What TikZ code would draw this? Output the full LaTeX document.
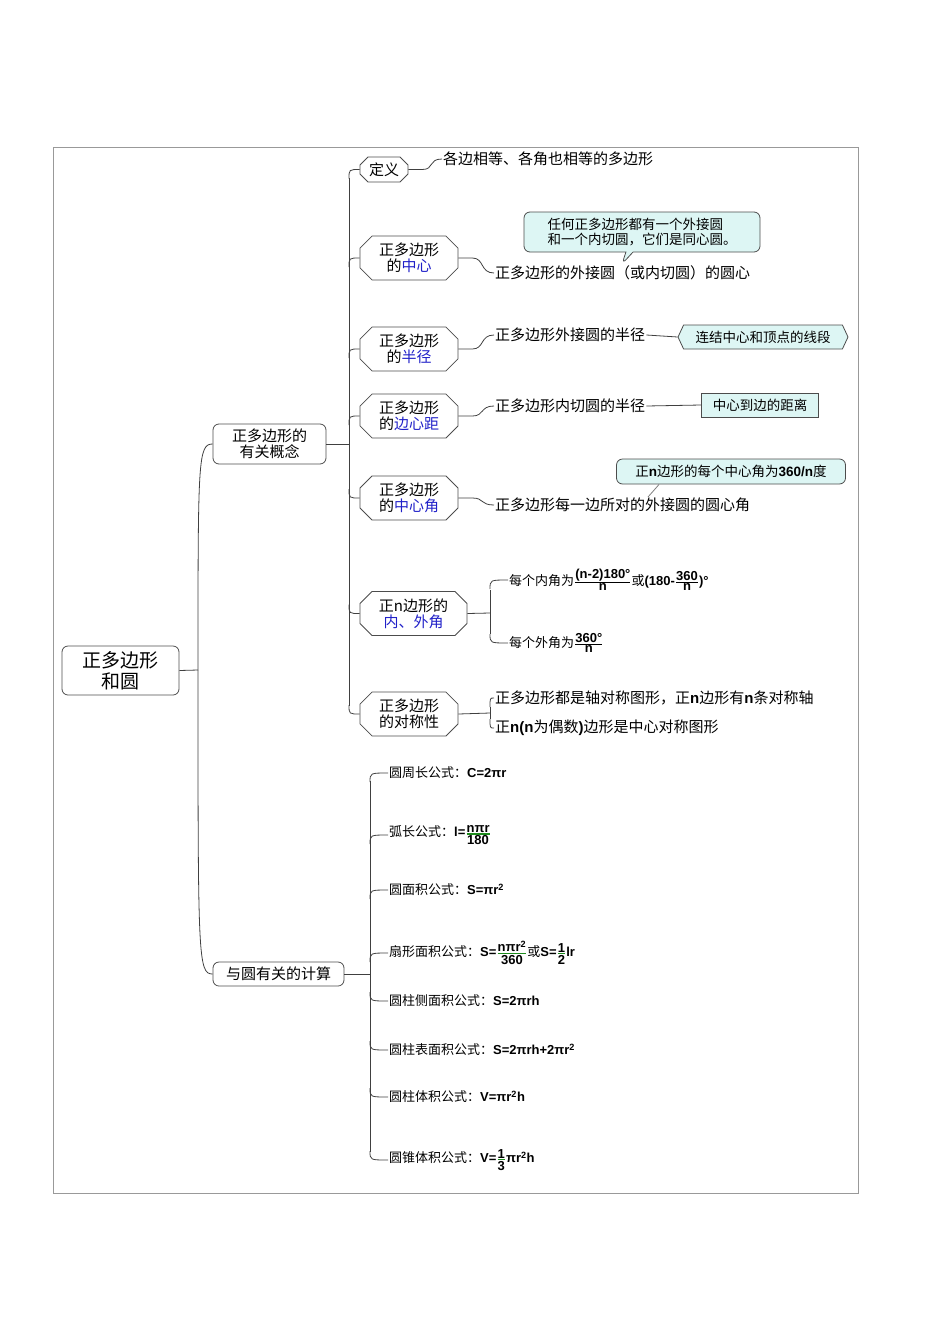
\documentclass[tikz,border=0pt]{standalone}
\usepackage{amsmath}
\usepackage{fontspec}
\setmainfont{Noto Sans CJK SC}
\newfontfamily\lsb{Liberation Sans}[BoldFont={Liberation Sans Bold}]
\usetikzlibrary{shapes.misc,shapes.symbols,shapes.callouts,calc}
\definecolor{lcyan}{HTML}{DDF6F4}
\definecolor{fgreen}{HTML}{1E8C1E}
\definecolor{kblue}{HTML}{2020C8}
\newcommand\fr[2]{$\genfrac{}{}{0.6pt}{}{\hbox{\lsb\bfseries #1}}{\hbox{\lsb\bfseries #2}}$}
\newcommand\gfr[2]{{\color{fgreen}$\genfrac{}{}{1.2pt}{}{\hbox{\color{black}\lsb\bfseries #1}}{\hbox{\color{black}\lsb\bfseries #2}}$}}
\newcommand\fb[1]{{\lsb\bfseries #1}}
\newcommand\brarc[3]{\draw[conn] ($(#1|-#2.west)+(0,#3)$) .. controls (#1|-#2.west) .. (#2.west);}
\newcommand\leaf[2]{\draw[conn] (#1.east) -- ($(#1.east)+(14,0)$) .. controls ($(#1.east)+(26,0)$) and ($(#2.west)+(-14,0)$) .. (#2.west);}
\tikzset{
 conn/.style={draw=black!75,line width=0.8pt},
 rbox/.style={draw=black!70,line width=0.8pt,rounded corners=6pt,align=center,inner sep=2pt,font=\fontsize{15}{16}\selectfont},
 cbox/.style={draw=black!70,line width=0.8pt,chamfered rectangle,chamfered rectangle xsep=6pt,chamfered rectangle ysep=6pt,align=center,minimum width=98,minimum height=40,inner sep=1pt,font=\fontsize{15}{16}\selectfont},
 ltxt/.style={anchor=west,inner sep=1pt,font=\fontsize{15}{17}\selectfont},
 ftxt/.style={anchor=west,inner sep=1pt,font=\fontsize{13}{15}\selectfont},
 note/.style={draw=black!70,fill=lcyan,line width=0.8pt,inner sep=2pt,font=\fontsize{13.5}{15}\selectfont,align=left},
}
\begin{document}
\begin{tikzpicture}[x=1pt,y=-1pt]
\useasboundingbox (0,0) rectangle (950,1344);
\draw[black!40,line width=0.8pt] (53,147) rectangle (858,1193);
% root and level 1
\node[rbox,minimum width=117,minimum height=49,font=\fontsize{19}{21}\selectfont] (root) at (120.5,670.5) {正多边形\\和圆};
\node[rbox,minimum width=113,minimum height=40] (gn) at (269.5,444) {正多边形的\\有关概念};
\node[rbox,minimum width=131,minimum height=24] (js) at (278.5,974) {与圆有关的计算};
\coordinate (h0) at (198,670);
\draw[conn] (root.east) -- (h0);
\draw[conn] (h0) .. controls (198,460) and (198,444) .. (gn.west);
\draw[conn] (h0) .. controls (198,958) and (198,974) .. (js.west);
% level 2
\node[cbox,minimum width=48,minimum height=25,chamfered rectangle xsep=4pt,chamfered rectangle ysep=4pt] (dy) at (384,169.5) {定义};
\node[cbox] (zx) at (409,258) {正多边形\\的{\color{kblue}中心}};
\node[cbox] (bj) at (409,349) {正多边形\\的{\color{kblue}半径}};
\node[cbox] (bxj) at (409,416) {正多边形\\的{\color{kblue}边心距}};
\node[cbox] (zxj) at (409,498) {正多边形\\的{\color{kblue}中心角}};
\node[cbox,minimum width=107,minimum height=39] (nw) at (413.5,613.5) {正n边形的\\{\color{kblue}内、外角}};
\node[cbox] (dc) at (409,714) {正多边形\\的对称性};
\coordinate (sp) at (349,444);
\draw[conn] (gn.east) -- (sp);
\draw[conn] (349,178) -- (349,706);
\brarc{sp}{dy}{9}
\brarc{sp}{zx}{9}
\brarc{sp}{bj}{9}
\brarc{sp}{bxj}{9}
\brarc{sp}{zxj}{-9}
\brarc{sp}{nw}{-9}
\brarc{sp}{dc}{-9}
% leaves
\node[ltxt] (d1) at (442,159) {各边相等、各角也相等的多边形};
\node[ltxt] (c1) at (494,273) {正多边形的外接圆（或内切圆）的圆心};
\node[ltxt] (r1) at (494,335) {正多边形外接圆的半径};
\node[ltxt] (b1) at (494,406) {正多边形内切圆的半径};
\node[ltxt] (j1) at (494,505) {正多边形每一边所对的外接圆的圆心角};
\node[ftxt] (n1) at (508,580) {每个内角为\fr{(n-2)180°}{n}或\fb{(180-}\fr{360}{n}\fb{)°}};
\node[ftxt] (n2) at (508,643) {每个外角为\fr{360°}{n}};
\node[ltxt] (s1) at (494,698) {正多边形都是轴对称图形，正\fb{n}边形有\fb{n}条对称轴};
\node[ltxt] (s2) at (494,728) {正\fb{n(n}为偶数\fb{)}边形是中心对称图形};
\leaf{dy}{d1}
\leaf{zx}{c1}
\leaf{bj}{r1}
\leaf{bxj}{b1}
\leaf{zxj}{j1}
\coordinate (sn) at (490,613);
\draw[conn] (nw.east) -- (sn);
\draw[conn] (490,590) -- (490,634);
\brarc{sn}{n1}{9}
\brarc{sn}{n2}{-9}
\coordinate (sd) at (490,713);
\draw[conn] (dc.east) -- (sd);
\draw[conn] (490,707) -- (490,719);
\brarc{sd}{s1}{9}
\brarc{sd}{s2}{-9}
% notes
\node[note,rectangle callout,rounded corners=6pt,minimum width=236,minimum height=40,callout absolute pointer={(622,264)}] (co) at (642,232) {任何正多边形都有一个外接圆\\和一个内切圆，它们是同心圆。};
\node[note,signal,signal to=west and east,signal pointer angle=130,minimum width=170,minimum height=24] (hx) at (763,337) {连结中心和顶点的线段};
\node[note,minimum width=117,minimum height=24] (bx) at (760,405) {中心到边的距离};
\node[note,rounded corners=6pt,minimum width=229,minimum height=25] (jx) at (731,471.5) {正\fb{n}边形的每个中心角为\fb{360/n}度};
\draw[conn] (r1.east) -- (hx.west);
\draw[conn] (b1.east) -- (bx.west);
\coordinate (jp) at (648,497);
\draw[conn,black!50] ($(jx.south west)+(43,0)$) -- (jp);
% calculation
\coordinate (sc) at (370,974);
\draw[conn] (js.east) -- (sc);
\draw[conn] (370,781) -- (370,1152);
\node[ftxt] (k1) at (388,773) {圆周长公式：\fb{C=2πr}};
\node[ftxt] (k2) at (388,835) {弧长公式：\fb{l=}\gfr{nπr}{180}};
\node[ftxt] (k3) at (388,890) {圆面积公式：\fb{S=πr\textsuperscript{2}}};
\node[ftxt] (k4) at (388,953) {扇形面积公式：\fb{S=}\gfr{nπr\textsuperscript{2}}{360}或\fb{S=}\gfr{1}{2}\fb{lr}};
\node[ftxt] (k5) at (388,1001) {圆柱侧面积公式：\fb{S=2πrh}};
\node[ftxt] (k6) at (388,1050) {圆柱表面积公式：\fb{S=2πrh+2πr\textsuperscript{2}}};
\node[ftxt] (k7) at (388,1097) {圆柱体积公式：\fb{V=πr\textsuperscript{2}h}};
\node[ftxt] (k8) at (388,1160) {圆锥体积公式：\fb{V=}\gfr{1}{3}\fb{πr\textsuperscript{2}h}};
\brarc{sc}{k1}{9}
\brarc{sc}{k2}{9}
\brarc{sc}{k3}{9}
\brarc{sc}{k4}{9}
\brarc{sc}{k5}{-9}
\brarc{sc}{k6}{-9}
\brarc{sc}{k7}{-9}
\brarc{sc}{k8}{-9}
\end{tikzpicture}
\end{document}
